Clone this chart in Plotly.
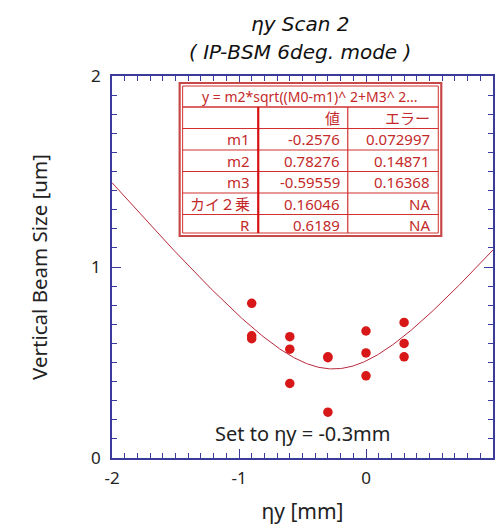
import numpy as np
import plotly.graph_objects as go

# ---- data ----
eta_y = [-0.9, -0.9, -0.9, -0.6, -0.6, -0.6, -0.3, -0.3, -0.3, 0.0, 0.0, 0.0, 0.3, 0.3, 0.3]
beam_size = [0.81, 0.64, 0.625, 0.635, 0.57, 0.39, 0.53, 0.525, 0.24, 0.665, 0.55, 0.43, 0.71, 0.60, 0.53]

# fit parameters shown in the table: y = m2*sqrt((x-m1)^2 + m3^2)
fit_formula = "y = m2*sqrt((M0-m1)^ 2+M3^ 2..."
col_headers = ["", "値", "エラー"]
row_labels = ["m1", "m2", "m3", "カイ２乗", "R"]
row_values = ["-0.2576", "0.78276", "-0.59559", "0.16046", "0.6189"]
row_errors = ["0.072997", "0.14871", "0.16368", "NA", "NA"]
m1, m2, m3 = -0.2576, 0.78276, -0.59559

x_ticks = [-2, -1, 0, 1]
y_ticks = [0, 1, 2]

W, H = 495, 527
ML, MR, MT, MB = 112, 0, 76, 69
PW, PH = W - ML - MR, H - MT - MB

def px(x):
    return (x - ML) / PW

def py(y):
    return (H - MB - y) / PH

fit_x = np.linspace(-2, 1, 301)
fit_y = m2 * np.sqrt((fit_x - m1) ** 2 + m3 ** 2)

AX = "#3b3b9c"
RED = "#d81818"
TRED = "#c42a2a"
FONT = "Noto Sans, Noto Sans CJK JP, sans-serif"
TFONT = "DejaVu Sans, Noto Sans, sans-serif"

fig = go.Figure()
fig.add_trace(go.Scatter(x=fit_x, y=fit_y, mode="lines",
                         line=dict(color="#b8283c", width=1), hoverinfo="skip"))
fig.add_trace(go.Scatter(x=eta_y, y=beam_size, mode="markers",
                         marker=dict(color=RED, size=9.5)))

axis_common = dict(
    showline=True, linecolor=AX, linewidth=1.5, mirror="allticks",
    ticks="inside", ticklen=9, tickwidth=1.2, tickcolor=AX,
    showgrid=False, zeroline=False,
    tickfont=dict(family=FONT, size=17, color="#222"),
)

fig.update_layout(
    width=W, height=H,
    margin=dict(l=ML, r=MR, t=MT, b=MB),
    paper_bgcolor="white", plot_bgcolor="white",
    showlegend=False,
    font=dict(family=FONT),
    xaxis=dict(range=[-2, 1], tickvals=x_ticks, ticktext=[str(v) if v >= 0 else "-" + str(-v) for v in x_ticks],
               minor=dict(dtick=0.1, ticklen=5, ticks="inside", tickcolor=AX, tickwidth=1),
               title=dict(text="ηy [mm]", font=dict(family=FONT, size=21, color="#222"), standoff=16),
               ticklabelstandoff=4,
               **axis_common),
    yaxis=dict(range=[0, 2], tickvals=y_ticks, ticktext=[str(v) for v in y_ticks],
               minor=dict(dtick=0.1, ticklen=5, ticks="inside", tickcolor=AX, tickwidth=1),
               title=dict(text="Vertical Beam Size [um]", font=dict(family=FONT, size=20.5, color="#222"), standoff=38),
               ticklabelstandoff=6,
               **axis_common),
)

annotations = []
shapes = []

def label(text, x, y, size, color, xanchor="center", family=FONT):
    return dict(text=text, xref="paper", yref="paper", x=px(x), y=py(y),
                xanchor=xanchor, yanchor="middle", showarrow=False,
                font=dict(family=family, size=size, color=color))

# title
annotations.append(label("<i>ηy Scan 2</i>", 301, 24, 20, "#111", family=TFONT))
annotations.append(label("<i>( IP-BSM 6deg. mode )</i>", 301, 52, 20, "#111", family=TFONT))
# set label
annotations.append(label("Set to ηy = -0.3mm", 303, 433, 20, "#222"))

# ---- fit table ----
TL, TR, TT = 180, 443, 83
row_h = 21.5
header_h = 24
col1, col2 = 259, 349
n_rows = len(row_labels) + 1
TB = TT + header_h + n_rows * row_h

def rect(x0, y0, x1, y1, color, width, fill=None):
    d = dict(type="rect", xref="paper", yref="paper",
             x0=px(x0), x1=px(x1), y0=py(y0), y1=py(y1),
             line=dict(color=color, width=width), layer="above")
    if fill:
        d["fillcolor"] = fill
    return d

def hline(x0, x1, y, color, width):
    return dict(type="line", xref="paper", yref="paper",
                x0=px(x0), x1=px(x1), y0=py(y), y1=py(y),
                line=dict(color=color, width=width), layer="above")

def vline(x, y0, y1, color, width):
    return dict(type="line", xref="paper", yref="paper",
                x0=px(x), x1=px(x), y0=py(y0), y1=py(y1),
                line=dict(color=color, width=width), layer="above")

shapes.append(rect(TL, TT, TR, TB, "#c84848", 2.2, fill="white"))
shapes.append(rect(TL + 3, TT + 3, TR - 3, TB - 3, "#d23030", 1))
y = TT + header_h
shapes.append(hline(TL + 3, TR - 3, y, "#d23030", 1.5))
for i in range(n_rows - 1):
    y += row_h
    shapes.append(hline(TL + 3, TR - 3, y, "#d23030", 1.2))
shapes.append(vline(col1, TT + header_h, TB - 3, "#d81010", 2.2))
shapes.append(vline(col2, TT + header_h, TB - 3, "#d23030", 1.2))

annotations.append(label(fit_formula, (TL + TR) / 2, TT + 3 + (header_h - 3) / 2, 14, TRED))

FS = 15
rows = [col_headers] + [[l, v, e] for l, v, e in zip(row_labels, row_values, row_errors)]
right_edges = [col1 - 6, col2 - 6, TR - 9]
for r, row in enumerate(rows):
    yc = TT + header_h + r * row_h + row_h / 2
    for c, txt in enumerate(row):
        if not txt:
            continue
        annotations.append(label(txt, right_edges[c], yc, FS, TRED, xanchor="right"))

fig.update_layout(annotations=annotations, shapes=shapes)
fig.write_html("out.html")
